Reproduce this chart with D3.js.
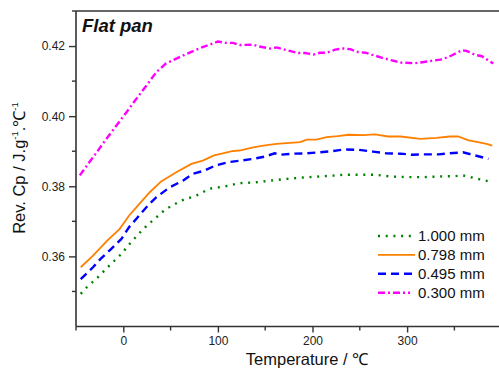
<!DOCTYPE html>
<html>
<head>
<meta charset="utf-8">
<script src="https://cdn.jsdelivr.net/npm/d3@7"></script>
<style>
  body { margin: 0; background: #fff; }
  svg { display: block; font-family: "Liberation Sans", Arial, sans-serif; }
</style>
</head>
<body>
<div id="chart"></div>
<script>
// series: temperature (°C) and reversing Cp (J/g/°C)
const t1000 = [-45, -39, -27, -15, -2, 8, 21, 33, 45, 61, 77, 91, 108, 123, 139, 155, 173, 190, 208, 224, 233, 248, 266, 282, 301, 317, 335, 351, 359, 375, 391];
const cp1000 = [0.3493, 0.3511, 0.3540, 0.3573, 0.3607, 0.3640, 0.3678, 0.3707, 0.3735, 0.3759, 0.3773, 0.3793, 0.3800, 0.3809, 0.3811, 0.3816, 0.3821, 0.3825, 0.3828, 0.3831, 0.3833, 0.3833, 0.3833, 0.3828, 0.3826, 0.3826, 0.3828, 0.3829, 0.3831, 0.3821, 0.3811];

const t798 = [-45, -32, -17, -4, 6, 17, 28, 40, 56, 72, 84, 96, 104, 115, 123, 136, 148, 162, 176, 187, 194, 204, 215, 227, 238, 254, 266, 280, 293, 314, 331, 345, 354, 365, 375, 384, 390];
const cp798 = [0.3569, 0.3602, 0.3645, 0.3678, 0.3716, 0.3750, 0.3783, 0.3814, 0.3840, 0.3864, 0.3873, 0.3888, 0.3893, 0.3900, 0.3902, 0.3910, 0.3916, 0.3921, 0.3924, 0.3926, 0.3933, 0.3933, 0.3940, 0.3943, 0.3947, 0.3946, 0.3948, 0.3942, 0.3942, 0.3935, 0.3938, 0.3942, 0.3942, 0.3931, 0.3926, 0.3921, 0.3916];

const t495 = [-45, -32, -24, -13, -2, 6, 15, 26, 35, 49, 63, 73, 86, 97, 111, 123, 137, 150, 160, 166, 180, 194, 208, 220, 234, 249, 264, 278, 293, 305, 319, 333, 345, 359, 372, 386];
const cp495 = [0.3535, 0.3569, 0.3593, 0.3621, 0.3650, 0.3683, 0.3711, 0.3745, 0.3769, 0.3797, 0.3816, 0.3835, 0.3845, 0.3859, 0.3869, 0.3873, 0.3878, 0.3885, 0.3894, 0.3890, 0.3893, 0.3894, 0.3897, 0.3900, 0.3905, 0.3904, 0.3899, 0.3894, 0.3893, 0.3890, 0.3891, 0.3891, 0.3894, 0.3897, 0.3888, 0.3878];

const t300 = [-46, -35, -27, -18, -4, 3, 15, 26, 35, 45, 63, 80, 96, 100, 108, 116, 123, 137, 143, 155, 162, 176, 185, 192, 201, 208, 215, 224, 233, 240, 248, 256, 273, 284, 293, 308, 324, 337, 347, 358, 363, 372, 379, 391];
const cp300 = [0.3831, 0.3872, 0.3901, 0.3935, 0.3985, 0.4010, 0.4054, 0.4093, 0.4126, 0.4150, 0.4173, 0.4193, 0.4209, 0.4213, 0.4209, 0.4209, 0.4203, 0.4204, 0.4199, 0.4193, 0.4196, 0.4186, 0.4180, 0.4180, 0.4176, 0.4181, 0.4181, 0.4190, 0.4193, 0.4191, 0.4183, 0.4181, 0.4167, 0.4159, 0.4153, 0.4151, 0.4157, 0.4162, 0.4173, 0.4188, 0.4186, 0.4175, 0.4171, 0.4150];

const labels = ['1.000 mm', '0.798 mm', '0.495 mm', '0.300 mm'];
const xTicks = [0, 100, 200, 300];
const yTicks = [0.36, 0.38, 0.40, 0.42];

const series = [
  { label: labels[0], t: t1000, cp: cp1000, color: '#008000', dash: '2,5.7', w: 2.4, sample: 37 },
  { label: labels[1], t: t798, cp: cp798, color: '#ff8000', dash: null, w: 1.8, sample: 37 },
  { label: labels[2], t: t495, cp: cp495, color: '#0000ff', dash: '8,5', w: 2.4, sample: 37 },
  { label: labels[3], t: t300, cp: cp300, color: '#ff00ff', dash: '7,3,2,3', w: 2.4, sample: 32 }
];

const width = 499, height = 369;
const svg = d3.select('#chart').append('svg').attr('width', width).attr('height', height);

const x = d3.scaleLinear().domain([-50, 400]).range([76, 501.7]);
const y = d3.scaleLinear().domain([0.34, 0.43]).range([326.5, 11]);

const axisColor = '#333';

// curves
const line = d3.line().x(d => x(d[0])).y(d => y(d[1]));
series.forEach(s => {
  const pts = s.t.map((t, i) => [t, s.cp[i]]);
  svg.append('path')
    .datum(pts)
    .attr('fill', 'none')
    .attr('stroke', s.color)
    .attr('stroke-width', s.w)
    .attr('stroke-dasharray', s.dash)
    .attr('d', line);
});

// frame top edge
svg.append('line').attr('x1', x(-50)).attr('x2', width).attr('y1', y(0.43)).attr('y2', y(0.43))
  .attr('stroke', axisColor).attr('stroke-width', 1.6);

const xAxis = d3.axisBottom(x).tickValues(xTicks).tickFormat(d3.format('d')).tickSizeOuter(0).tickSize(6).tickPadding(4);
const gx = svg.append('g').attr('transform', `translate(0,${y(0.34)})`).call(xAxis);
// minor x ticks
gx.selectAll('.minor').data([-50, 50, 150, 250, 350]).enter().append('line')
  .attr('x1', d => x(d)).attr('x2', d => x(d)).attr('y1', 0).attr('y2', 4);

const yAxis = d3.axisLeft(y).tickValues(yTicks).tickFormat(d3.format('.2f')).tickSizeOuter(0).tickSize(7).tickPadding(4);
const gy = svg.append('g').attr('transform', `translate(${x(-50)},0)`).call(yAxis);
gy.selectAll('.minor').data([0.35, 0.37, 0.39, 0.41, 0.43]).enter().append('line')
  .attr('x1', 0).attr('x2', -4).attr('y1', d => y(d)).attr('y2', d => y(d));

[gx, gy].forEach(g => {
  g.select('.domain').attr('stroke', axisColor).attr('stroke-width', 1.6);
  g.selectAll('line').attr('stroke', axisColor).attr('stroke-width', 1.4);
  g.selectAll('text').attr('fill', '#222').style('font-size', '12px')
    .style('font-family', '"Liberation Sans", Arial, sans-serif');
});
gy.select('.domain').attr('d', `M0,${y(0.43)}V${y(0.34)}`);
gx.select('.domain').attr('d', `M${x(-50)},0H${width}`);

// axis titles
svg.append('text')
  .attr('x', 307).attr('y', 365)
  .attr('text-anchor', 'middle')
  .style('font-size', '16.5px').attr('fill', '#111')
  .text('Temperature / \u2103');

const yt = svg.append('text')
  .attr('transform', 'translate(25,168) rotate(-90)')
  .attr('text-anchor', 'middle')
  .style('font-size', '16.5px').attr('fill', '#111');
yt.append('tspan').text('Rev. Cp / J.g');
yt.append('tspan').attr('dy', -7).style('font-size', '9.5px').text('-1');
yt.append('tspan').attr('dy', 7).text('.\u2103');
yt.append('tspan').attr('dy', -7).style('font-size', '9.5px').text('-1');

// panel label
svg.append('text')
  .attr('x', 82).attr('y', 32)
  .style('font-size', '18.5px').style('font-weight', 'bold').style('font-style', 'italic')
  .attr('fill', '#111')
  .text('Flat pan');

// legend
const legend = svg.append('g');
series.forEach((s, i) => {
  const ly = 241 + i * 18.9;
  legend.append('line')
    .attr('x1', 378).attr('x2', 378 + s.sample)
    .attr('y1', ly - 5).attr('y2', ly - 5)
    .attr('stroke', s.color).attr('stroke-width', s.w)
    .attr('stroke-dasharray', s.dash);
  legend.append('text')
    .attr('x', 418).attr('y', ly)
    .style('font-size', '15px').attr('fill', '#111')
    .text(s.label);
});
</script>
</body>
</html>
